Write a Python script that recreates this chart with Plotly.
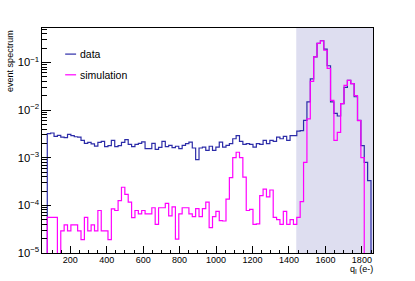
import numpy as np
import plotly.graph_objects as go

# ---------------- data ----------------
bin_lo = 74.0          # lower edge of first filled bin (e-)
bin_width = 18.5       # histogram bin width (e-)

data_vals = [
    3.2e-3, 3.3e-3, 2.8e-3, 2.95e-3, 2.7e-3, 2.65e-3, 3.1e-3, 2.9e-3, 2.75e-3, 2.7e-3,
    2.3e-3, 2.0e-3, 2.1e-3, 1.95e-3, 1.75e-3, 2.1e-3, 2.2e-3, 1.7e-3, 1.8e-3, 2.3e-3,
    1.7e-3, 1.8e-3, 2.1e-3, 2.4e-3, 1.9e-3, 1.7e-3, 1.9e-3, 2.0e-3, 2.15e-3, 1.55e-3,
    1.55e-3, 2.0e-3, 1.5e-3, 1.65e-3, 2.2e-3, 1.7e-3, 1.82e-3, 1.62e-3, 1.74e-3, 1.55e-3,
    1.82e-3, 1.97e-3, 2.13e-3, 1.6e-3, 9.1e-4, 1.6e-3, 1.67e-3, 1.42e-3, 1.74e-3, 1.42e-3,
    1.67e-3, 2.13e-3, 1.67e-3, 1.82e-3, 1.97e-3, 2.5e-3, 2.9e-3, 2.2e-3, 1.9e-3, 1.97e-3,
    1.9e-3, 1.67e-3, 1.97e-3, 1.9e-3, 2.3e-3, 1.97e-3, 2.3e-3, 2.2e-3, 2.7e-3, 2.5e-3,
    2.8e-3, 2.3e-3, 2.9e-3, 2.9e-3, 3.6e-3, 3.7e-3, 6.1e-3, 0.0148, 0.045, 0.131,
    0.25, 0.285, 0.19, 0.085, 0.0148, 0.0085, 0.0075, 0.0137, 0.0298, 0.042,
    0.036, 0.019, 0.0061, 0.0018, 8e-4, 3.3e-4,
]

sim_vals = [
    5.6e-5, 5.6e-5, 5.6e-5, 0.0, 2.9e-5, 3.9e-5, 2.9e-5, 3.9e-5, 3.9e-5, 2.9e-5,
    1.9e-5, 5.6e-5, 2.9e-5, 3.9e-5, 2.9e-5, 7.8e-5, 2.9e-5, 2.9e-5, 1.9e-5, 8.4e-5,
    7.8e-5, 1.26e-4, 2.4e-4, 1.7e-4, 1.17e-4, 5.5e-5, 7.8e-5, 6.6e-5, 7.8e-5, 6.6e-5,
    6.6e-5, 8.9e-5, 4.0e-5, 8.9e-5, 8.9e-5, 1.1e-4, 6.0e-5, 9.3e-5, 1.96e-5, 6.6e-5,
    8.9e-5, 8.9e-5, 6.6e-5, 5.8e-5, 8.5e-5, 5.8e-5, 8.5e-5, 1.17e-4, 3.4e-5, 5.8e-5,
    7.5e-5, 4.8e-5, 4.7e-5, 1.35e-4, 3.8e-4, 1.0e-3, 1.3e-3, 1.0e-3, 3.9e-4, 7.8e-5,
    8.2e-5, 4.0e-5, 4.1e-5, 1.6e-4, 2.2e-4, 1.5e-4, 2.1e-4, 5.6e-5, 5.0e-5, 4.0e-5,
    7.5e-5, 4.0e-5, 5.0e-5, 4.0e-5, 5.6e-5, 1.2e-4, 8e-4, 0.0065, 0.04, 0.13,
    0.25, 0.285, 0.18, 0.075, 0.016, 0.0023, 0.0034, 0.0137, 0.033, 0.042,
    0.036, 0.02, 0.006, 0.001, 0.0, 0.0,
]

series_names = ["data", "simulation"]
signal_region = [1440, 1861]
x_range = [45, 1861]
y_range_log = [-5, -0.278]
x_title = "q<sub>I</sub> (e-)"
y_title = "event spectrum"

BLUE = "#2c2ca8"
MAGENTA = "#ff00ff"
FONT = "Liberation Sans, Arial, sans-serif"


def step_xy(values):
    n = len(values)
    edges = bin_lo + bin_width * np.arange(n + 1)
    tiny = 1e-12
    v = [val if val > 0 else tiny for val in values]
    xs = [edges[0]] + list(edges)
    ys = [tiny] + v + [tiny]
    return xs, ys


fig = go.Figure()
for name, vals, col in [(series_names[0], data_vals, BLUE), (series_names[1], sim_vals, MAGENTA)]:
    xs, ys = step_xy(vals)
    fig.add_trace(go.Scatter(x=xs, y=ys, mode="lines", name=name,
                             line=dict(color=col, width=1.2, shape="hv"),
                             showlegend=False, hoverinfo="skip"))

# shaded signal region
fig.add_shape(type="rect", xref="x", yref="paper", x0=signal_region[0], x1=signal_region[1],
              y0=0, y1=1, fillcolor="#dedef0", line=dict(width=0), layer="below")

# legend (ROOT-style, drawn manually)
leg_y = [0.884, 0.792]
for name, col, yy in zip(series_names, [BLUE, MAGENTA], leg_y):
    fig.add_shape(type="line", xref="paper", yref="paper", x0=0.07, x1=0.103, y0=yy, y1=yy,
                  line=dict(color=col, width=1.2))
    fig.add_annotation(xref="paper", yref="paper", x=0.108, y=yy, text=name, showarrow=False,
                       xanchor="left", yanchor="middle", font=dict(size=10.5, color="black", family=FONT))

# axis titles
fig.add_annotation(xref="paper", yref="paper", x=1.005, y=-0.04, text=x_title, showarrow=False,
                   xanchor="right", yanchor="top", font=dict(size=9, color="black", family=FONT))
fig.add_annotation(xref="paper", yref="paper", x=-0.097, y=1.0, text=y_title, showarrow=False,
                   textangle=-90, xanchor="center", yanchor="top",
                   font=dict(size=9, color="black", family=FONT))

fig.update_xaxes(range=x_range, showline=True, linecolor="black", linewidth=1, mirror=True,
                 ticks="inside", ticklen=7, tickcolor="black", dtick=200, tick0=0,
                 ticklabelstandoff=-2,
                 minor=dict(ticks="inside", ticklen=3.5, dtick=50, tickcolor="black"),
                 showgrid=False, zeroline=False,
                 tickfont=dict(size=9, color="black", family=FONT))
fig.update_yaxes(type="log", range=y_range_log, showline=True, linecolor="black", linewidth=1,
                 mirror=True, ticks="inside", ticklen=9, tickcolor="black", dtick=1,
                 exponentformat="power",
                 minor=dict(ticks="inside", ticklen=5, tickcolor="black"),
                 showgrid=False, zeroline=False,
                 tickfont=dict(size=9, color="black", family=FONT))

fig.update_layout(width=415, height=281, margin=dict(l=42, r=42, t=28, b=28),
                  paper_bgcolor="white", plot_bgcolor="white", showlegend=False,
                  hovermode=False,
                  font=dict(family=FONT, color="black"))

fig.write_html("out.html", config={"displayModeBar": False, "staticPlot": True},
               post_script="document.body.style.margin='0';document.body.style.overflow='hidden';")
